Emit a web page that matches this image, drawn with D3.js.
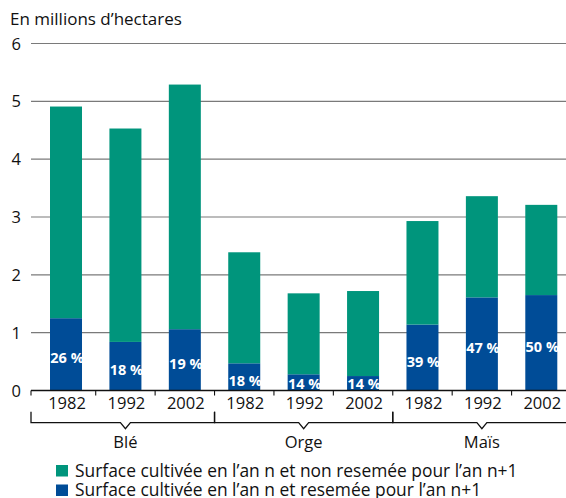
<!DOCTYPE html>
<html>
<head>
<meta charset="utf-8">
<script src="https://cdn.jsdelivr.net/npm/d3@7"></script>
<style>
    body { margin: 0; background: #fff; }
    text { font-family: "Open Sans", sans-serif; }
</style>
</head>
<body>
<script>

const groups = ["Blé", "Orge", "Maïs"];
const years = ["1982", "1992", "2002"];
// surface resemée (bleu) et non resemée (vert), en millions d'hectares
const resown = [1.25, 0.84, 1.06, 0.47, 0.28, 0.25, 1.14, 1.61, 1.65];
const notResown = [3.66, 3.69, 4.23, 1.92, 1.40, 1.47, 1.79, 1.75, 1.56];
const shares = ["26 %", "18 %", "19 %", "18 %", "14 %", "14 %", "39 %", "47 %", "50 %"];
const yTicks = [0, 1, 2, 3, 4, 5, 6];
const legendLabels = [
    "Surface cultivée en l\u2019an n et non resemée pour l\u2019an n+1",
    "Surface cultivée en l\u2019an n et resemée pour l\u2019an n+1"
];

const width = 566;
const height = 498;

const green = "#00957c";
const blue = "#004c97";

const data = [];
groups.forEach((g, gi) => {
    years.forEach((yr, yi) => {
        const i = gi * years.length + yi;
        data.push({key: g + "-" + yr, group: g, year: yr, resown: resown[i], notResown: notResown[i], share: shares[i]});
    });
});

const svg = d3.select("body")
    .append("svg")
        .attr("width", width)
        .attr("height", height);

const x = d3.scaleBand()
    .domain(data.map(d => d.key))
    .range([36.3, 571])
    .paddingInner(0)
    .paddingOuter(0);

const barW = 32;

const y = d3.scaleLinear()
    .domain([0, 6])
    .range([390.5, 43.5]);

// titre d'axe
svg.append("text")
    .attr("x", 10)
    .attr("y", 25)
    .attr("font-size", "17px")
    .style("fill", "#111")
    .text("En millions d\u2019hectares");

// grille
svg.append("g")
    .selectAll("line")
    .data(yTicks.filter(d => d > 0))
    .enter()
    .append("line")
        .attr("x1", 31)
        .attr("x2", width)
        .attr("y1", d => y(d))
        .attr("y2", d => y(d))
        .attr("stroke", "#7a7a7a")
        .attr("stroke-width", 1.2);

svg.append("g")
    .selectAll("text")
    .data(yTicks)
    .enter()
    .append("text")
        .attr("x", 11.5)
        .attr("y", d => y(d) + 6)
        .attr("font-size", "16.5px")
        .style("fill", "#111")
        .text(d => d);

// barres empilées
const stack = d3.stack().keys(["resown", "notResown"]);
const series = stack(data);
const color = d3.scaleOrdinal()
    .domain(["resown", "notResown"])
    .range([blue, green]);

svg.append("g")
    .selectAll("g")
    .data(series)
    .enter()
    .append("g")
        .attr("fill", s => color(s.key))
    .selectAll("rect")
    .data(s => s)
    .enter()
    .append("rect")
        .attr("x", d => x(d.data.key) + (x.bandwidth() - barW) / 2)
        .attr("y", d => y(d[1]))
        .attr("width", barW)
        .attr("height", d => y(d[0]) - y(d[1]));

// pourcentages
svg.append("g")
    .selectAll("text")
    .data(data)
    .enter()
    .append("text")
        .attr("x", d => x(d.key) + x.bandwidth() / 2 + 1)
        .attr("y", d => Math.min(y(d.resown / 2) + 9, 388.5))
        .attr("text-anchor", "middle")
        .attr("font-size", "14.5px")
        .attr("font-weight", "bold")
        .style("fill", "#fff")
        .text(d => d.share);

// axe des abscisses
const axisY = 390.5;
svg.append("line")
    .attr("x1", 31)
    .attr("x2", width)
    .attr("y1", axisY)
    .attr("y2", axisY)
    .attr("stroke", "#111")
    .attr("stroke-width", 1.3);

const tickX = [31].concat(data.slice(1).map(d => x(d.key)));
svg.append("g")
    .selectAll("line")
    .data(tickX)
    .enter()
    .append("line")
        .attr("x1", d => d)
        .attr("x2", d => d)
        .attr("y1", axisY)
        .attr("y2", axisY + 5)
        .attr("stroke", "#111")
        .attr("stroke-width", 1.1);

svg.append("g")
    .selectAll("text")
    .data(data)
    .enter()
    .append("text")
        .attr("x", d => x(d.key) + x.bandwidth() / 2 + 1)
        .attr("y", 408.5)
        .attr("text-anchor", "middle")
        .attr("font-size", "16.5px")
        .style("fill", "#111")
        .text(d => d.year);

// accolades des groupes
const bracketY = 422.7;
const groupInfo = groups.map((g, gi) => {
    const first = data[gi * 3], mid = data[gi * 3 + 1], last = data[gi * 3 + 2];
    return {
        name: g,
        x0: gi === 0 ? 31 : x(first.key),
        x1: x(last.key) + x.bandwidth(),
        cx: x(mid.key) + x.bandwidth() / 2
    };
});

svg.append("g")
    .selectAll("path")
    .data(groupInfo)
    .enter()
    .append("path")
        .attr("d", d => "M" + d.x0 + "," + (bracketY - 11) + "V" + bracketY
            + "H" + (d.cx - 5) + "L" + d.cx + "," + (bracketY + 6) + "L" + (d.cx + 5) + "," + bracketY
            + "H" + d.x1 + "V" + (bracketY - 11))
        .attr("fill", "none")
        .attr("stroke", "#111")
        .attr("stroke-width", 1.3);

svg.append("g")
    .selectAll("text")
    .data(groupInfo)
    .enter()
    .append("text")
        .attr("x", d => d.cx)
        .attr("y", 448)
        .attr("text-anchor", "middle")
        .attr("font-size", "16.5px")
        .style("fill", "#111")
        .text(d => d.name);

// légende
const legend = svg.append("g")
    .selectAll("g")
    .data(legendLabels)
    .enter()
    .append("g")
        .attr("transform", (d, i) => "translate(56," + (465 + i * 19.5) + ")");

legend.append("rect")
    .attr("width", 12)
    .attr("height", 11.5)
    .attr("fill", (d, i) => i === 0 ? green : blue);

legend.append("text")
    .attr("x", 19)
    .attr("y", 11.5)
    .attr("font-size", "17.4px")
    .style("fill", "#111")
    .text(d => d);

</script>
</body>
</html>
